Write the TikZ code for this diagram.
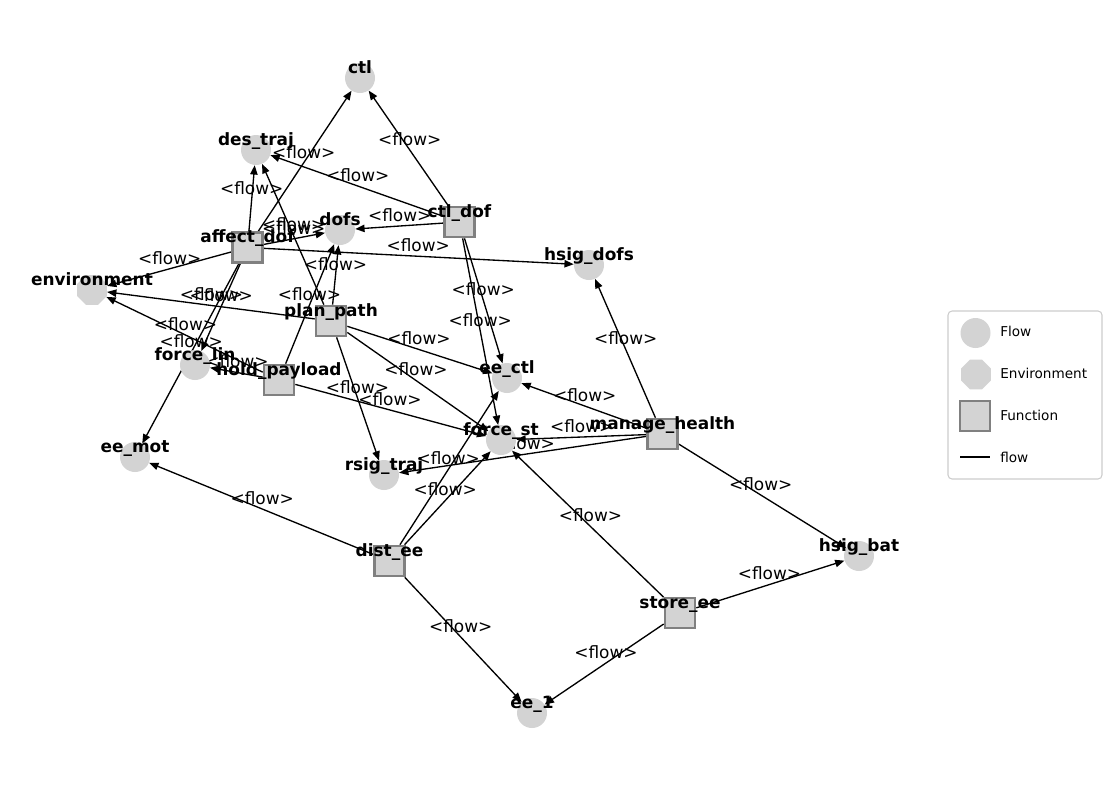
\documentclass[tikz,border=0pt]{standalone}
\usepackage{fontspec}
\setmainfont{DejaVu Sans}
\usetikzlibrary{shapes.geometric,arrows.meta,backgrounds}

\definecolor{nodefill}{HTML}{D3D3D3}
\definecolor{nodeborder}{HTML}{808080}
\definecolor{legendborder}{HTML}{CCCCCC}

\tikzset{
  flownode/.style={circle, fill=nodefill, minimum size=22.5pt, inner sep=0pt},
  envnode/.style={regular polygon, regular polygon sides=8, fill=nodefill, minimum size=24pt, inner sep=0pt},
  funcnode/.style={rectangle, fill=nodefill, draw=nodeborder, line width=2pt, minimum size=22.5pt, inner sep=0pt},
  nodelabel/.style={font=\bfseries\fontsize{12.7}{14}\selectfont, anchor=base, yshift=3.75pt, inner sep=0pt},
  edgelabel/.style={font=\fontsize{12.7}{14}\selectfont, anchor=base, yshift=3.4pt, inner sep=0pt},
  flowedge/.style={-{Triangle[length=7pt,width=5.5pt]}, line width=1pt},
  legendtext/.style={font=\fontsize{10.2}{12}\selectfont, anchor=base west, inner sep=0pt},
}

\begin{document}
\begin{tikzpicture}[x=0.75pt,y=-0.75pt]
  \useasboundingbox (0,0) rectangle (1112,790);

  % flows
  \node[flownode] (ctl) at (360,78) {};
  \node[flownode] (des_traj) at (256,150) {};
  \node[flownode] (dofs) at (340,230) {};
  \node[flownode] (hsig_dofs) at (589,265) {};
  \node[flownode] (force_lin) at (195,365) {};
  \node[flownode] (ee_ctl) at (507,378) {};
  \node[flownode] (force_st) at (501,440) {};
  \node[flownode] (ee_mot) at (135,457) {};
  \node[flownode] (rsig_traj) at (384,475) {};
  \node[flownode] (hsig_bat) at (859,556) {};
  \node[flownode] (ee_1) at (532,713) {};
  % environment
  \node[envnode] (environment) at (92,290) {};
  % functions
  \node[funcnode] (ctl_dof) at (459.5,222) {};
  \node[funcnode] (affect_dof) at (247.5,247.5) {};
  \node[funcnode] (plan_path) at (331,321) {};
  \node[funcnode] (hold_payload) at (279,380) {};
  \node[funcnode] (manage_health) at (662.5,434) {};
  \node[funcnode] (dist_ee) at (389.5,561) {};
  \node[funcnode] (store_ee) at (680,613) {};

  % edges
  \begin{scope}[on background layer]
    \foreach \src/\dst in {ctl_dof/ctl, ctl_dof/des_traj, ctl_dof/dofs, ctl_dof/ee_ctl, ctl_dof/force_st,
      affect_dof/ctl, affect_dof/des_traj, affect_dof/dofs, affect_dof/environment, affect_dof/hsig_dofs,
      affect_dof/force_lin, affect_dof/ee_mot,
      plan_path/environment, plan_path/des_traj, plan_path/dofs, plan_path/ee_ctl, plan_path/force_st,
      plan_path/rsig_traj,
      hold_payload/dofs, hold_payload/environment, hold_payload/force_lin, hold_payload/force_st,
      manage_health/hsig_dofs, manage_health/ee_ctl, manage_health/force_st, manage_health/rsig_traj,
      manage_health/hsig_bat,
      dist_ee/ee_ctl, dist_ee/force_st, dist_ee/ee_mot, dist_ee/ee_1,
      store_ee/force_st, store_ee/hsig_bat, store_ee/ee_1}{
      \draw[flowedge] (\src) -- (\dst);
      \path (\src.center) -- node[edgelabel] {<flow>} (\dst.center);
    }
  \end{scope}

  % node names
  \node[nodelabel] at (ctl) {ctl};
  \node[nodelabel] at (des_traj) {des\_traj};
  \node[nodelabel] at (dofs) {dofs};
  \node[nodelabel] at (hsig_dofs) {hsig\_dofs};
  \node[nodelabel] at (force_lin) {force\_lin};
  \node[nodelabel] at (ee_ctl) {ee\_ctl};
  \node[nodelabel] at (force_st) {force\_st};
  \node[nodelabel] at (ee_mot) {ee\_mot};
  \node[nodelabel] at (rsig_traj) {rsig\_traj};
  \node[nodelabel] at (hsig_bat) {hsig\_bat};
  \node[nodelabel] at (ee_1) {ee\_1};
  \node[nodelabel] at (environment) {environment};
  \node[nodelabel] at (ctl_dof) {ctl\_dof};
  \node[nodelabel] at (affect_dof) {affect\_dof};
  \node[nodelabel] at (plan_path) {plan\_path};
  \node[nodelabel] at (hold_payload) {hold\_payload};
  \node[nodelabel] at (manage_health) {manage\_health};
  \node[nodelabel] at (dist_ee) {dist\_ee};
  \node[nodelabel] at (store_ee) {store\_ee};

  % legend
  \draw[legendborder, line width=0.8pt, rounded corners=3pt] (948,311) rectangle (1102,479);
  \node[flownode] (leg_flow) at (975.5,333) {};
  \node[legendtext] at (1000,336.7) {Flow};
  \node[envnode] (leg_env) at (976,374.5) {};
  \node[legendtext] at (1000,378) {Environment};
  \node[funcnode] (leg_func) at (975,416) {};
  \node[legendtext] at (1000,420) {Function};
  \coordinate (leg_a) at (960,457);
  \coordinate (leg_b) at (990,457);
  \draw[line width=1.2pt] (leg_a) -- (leg_b);
  \node[legendtext] at (1000,462) {flow};
\end{tikzpicture}
\end{document}
